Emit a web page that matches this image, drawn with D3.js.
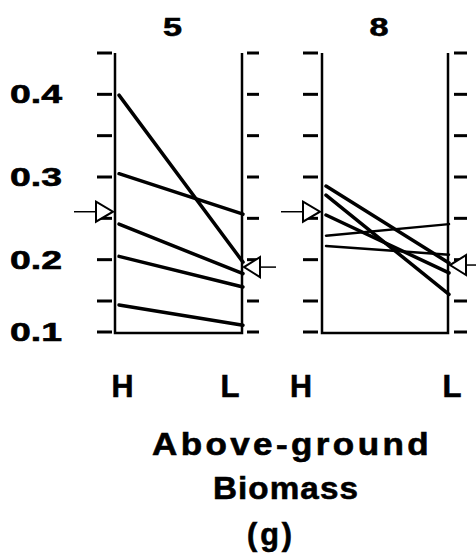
<!DOCTYPE html>
<html>
<head>
<meta charset="utf-8">
<script src="https://cdn.jsdelivr.net/npm/d3@7"></script>
<style>
  body { margin: 0; background: #fff; }
  text { font-family: "Liberation Sans", Arial, sans-serif; font-weight: bold; fill: #000; stroke: #000; stroke-width: 0.6; }
</style>
</head>
<body>
<div id="chart"></div>
<script>
// panel titles and the two treatment levels
var panels = ["5", "8"];
var categories = ["H", "L"];

// value at H and at L for every line, per panel
var highVals = [
    [0.399, 0.304, 0.243, 0.204, 0.1435],
    [0.289, 0.278, 0.254, 0.229, 0.2165]
];
var lowVals = [
    [0.197, 0.255, 0.183, 0.167, 0.111],
    [0.196, 0.158, 0.184, 0.243, 0.206]
];
// mean markers (arrows) at H and L
var meanHigh = [0.258, 0.258];
var meanLow = [0.191, 0.1935];

var yTicks = [0.1, 0.15, 0.2, 0.25, 0.3, 0.35, 0.4, 0.45];
var yLabels = [0.1, 0.2, 0.3, 0.4];

// layout
var width = 476, height = 555;
var panelLeft = [115, 322], panelRight = [242, 448];
var lineWidths = [[3.5, 3.5, 3.5, 3.5, 3.5], [3.5, 3.5, 3.5, 2.5, 2.5]];

var svg = d3.select("#chart").append("svg")
    .attr("width", width)
    .attr("height", height)

// the printed axis is squeezed below 0.15
var y = d3.scaleLinear()
    .domain([0.1, 0.15, 0.45])
    .range([332, 301, 53])

var yTop = 53, yBottom = 333;

panels.forEach(function(title, p){
    var xl = panelLeft[p], xr = panelRight[p];
    var g = svg.append("g").attr("class", "panel")

    var x = d3.scalePoint()
        .domain(categories)
        .range([xl + 4, xr + 1])

    // open-top box
    g.append("path")
        .attr("d", "M" + xl + "," + yTop + "V" + yBottom + "H" + xr + "V" + yTop)
        .attr("fill", "none")
        .attr("stroke", "#000")
        .attr("stroke-width", 2.5)

    // detached ticks on both sides
    var lg = [p === 0 ? 18 : 19, p === 0 ? 3 : 4];
    var rg = [p === 0 ? 5 : 6, p === 0 ? 17 : 19];
    g.selectAll(".tickL").data(yTicks).enter().append("line")
        .attr("x1", xl - lg[0]).attr("x2", xl - lg[1])
        .attr("y1", function(d){ return y(d) }).attr("y2", function(d){ return y(d) })
        .attr("stroke", "#000").attr("stroke-width", 3)
    g.selectAll(".tickR").data(yTicks).enter().append("line")
        .attr("x1", xr + rg[0]).attr("x2", xr + rg[1])
        .attr("y1", function(d){ return y(d) }).attr("y2", function(d){ return y(d) })
        .attr("stroke", "#000").attr("stroke-width", 3)

    // H -> L lines
    g.selectAll(".pair").data(highVals[p]).enter().append("line")
        .attr("class", "pair")
        .attr("x1", x("H"))
        .attr("x2", x("L"))
        .attr("y1", function(d){ return y(d) })
        .attr("y2", function(d, i){ return y(lowVals[p][i]) })
        .attr("stroke", "#000")
        .attr("stroke-width", function(d, i){ return lineWidths[p][i] })
        .attr("stroke-linecap", "round")

    // mean arrow on the H side, pointing right
    var ym = y(meanHigh[p]);
    g.append("line")
        .attr("x1", xl - 41).attr("x2", xl - 19)
        .attr("y1", ym).attr("y2", ym)
        .attr("stroke", "#000").attr("stroke-width", 1.5)
    g.append("path")
        .attr("d", "M" + (xl - 19) + "," + (ym - 10) + "L" + (xl - 2) + "," + ym + "L" + (xl - 19) + "," + (ym + 10) + "Z")
        .attr("fill", "#fff").attr("stroke", "#000").attr("stroke-width", 2)

    // mean arrow on the L side, pointing left
    var yl = y(meanLow[p]);
    g.append("line")
        .attr("x1", xr + 18).attr("x2", xr + 34)
        .attr("y1", yl).attr("y2", yl)
        .attr("stroke", "#000").attr("stroke-width", 1.5)
    g.append("path")
        .attr("d", "M" + (xr + 18) + "," + (yl - 10) + "L" + (xr + 2) + "," + yl + "L" + (xr + 18) + "," + (yl + 10) + "Z")
        .attr("fill", "#fff").attr("stroke", "#000").attr("stroke-width", 2)

    // panel title
    g.append("text")
        .attr("x", (xl + xr) / 2 - 6)
        .attr("y", 36)
        .attr("text-anchor", "middle")
        .attr("font-size", 26)
        .attr("textLength", 19)
        .attr("lengthAdjust", "spacingAndGlyphs")
        .text(title)

    // H / L labels
    var labelX = p === 0 ? [122.5, 230] : [301, 452];
    g.selectAll(".cat").data(categories).enter().append("text")
        .attr("x", function(d, i){ return labelX[i] })
        .attr("y", 397)
        .attr("text-anchor", "middle")
        .attr("font-size", 32)
        .attr("textLength", function(d){ return d === "H" ? 22 : 19 })
        .attr("lengthAdjust", "spacingAndGlyphs")
        .text(function(d){ return d })
})

// y tick labels
svg.selectAll(".ylab").data(yLabels).enter().append("text")
    .attr("x", 10)
    .attr("y", function(d){ return y(d) + 9 })
    .attr("font-size", 26)
    .attr("textLength", 52)
    .attr("lengthAdjust", "spacingAndGlyphs")
    .text(function(d){ return d3.format(".1f")(d) })

// axis title
var titleLines = [
    {t: "Above-ground", x: 152, y: 455, w: 280, ls: 3},
    {t: "Biomass", x: 213, y: 499, w: 146, ls: 1},
    {t: "(g)", x: 247, y: 545, w: 48, ls: 3}
];
svg.selectAll(".xtitle").data(titleLines).enter().append("text")
    .attr("x", function(d){ return d.x })
    .attr("y", function(d){ return d.y })
    .attr("font-size", 31)
    .attr("letter-spacing", function(d){ return d.ls })
    .attr("textLength", function(d){ return d.w })
    .attr("lengthAdjust", "spacingAndGlyphs")
    .text(function(d){ return d.t })
</script>
</body>
</html>
